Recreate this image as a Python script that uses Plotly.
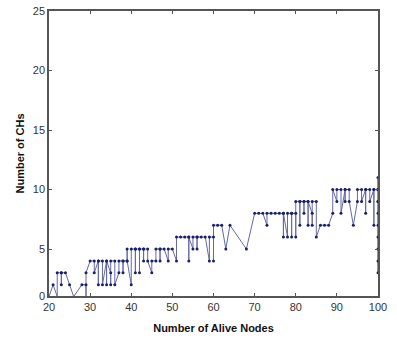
import plotly.graph_objects as go

# Alive-node counts, visited in time order (network starts with 100 alive nodes)
alive_nodes = [100, 99, 98, 97, 96, 95, 94, 93, 92, 91, 90, 89, 88, 87, 86, 85,
               84, 83, 82, 81, 80, 79, 78, 77, 76, 75, 74, 73, 72, 71, 70, 68,
               64, 63, 62, 61, 60, 59, 58, 57, 56, 55, 54, 53, 52, 51, 50, 49,
               48, 47, 46, 45, 44, 43, 42, 41, 40, 39, 38, 37, 36, 35, 34, 33,
               32, 31, 30, 29, 28, 26, 25, 24, 23, 22, 21, 20]

# Number of cluster heads observed in the successive rounds at each alive-node count
chs_per_count = [
    [10, 8, 11, 6, 3, 9, 5, 4, 7, 10, 9, 10],
    [10, 7, 10], [9, 10], [10, 8, 10], [9, 10], [10, 9], [7], [9, 10],
    [10, 9, 10], [8, 10], [10, 9], [10, 8], [7], [7], [7], [6, 9],
    [9, 7, 8], [9, 7, 9], [9, 8, 9], [9, 7, 9], [9, 6, 8], [8, 6, 8], [8, 6],
    [8, 6, 8], [8], [8], [8], [8, 7], [8], [8], [8], [5],
    [7], [5], [7], [7], [7, 4, 6], [6, 4], [6], [6], [6, 5, 6], [6, 5],
    [6, 4, 6], [6], [6], [6, 4], [5], [5, 4],
    [5], [5, 4, 5], [5, 4], [4, 3], [4, 5], [5, 4, 5], [5, 3, 5], [5, 3, 5],
    [5, 2], [4, 5, 4], [4, 3, 4], [4, 3], [2, 4], [4, 2, 3], [4, 2, 4], [2, 4],
    [4, 2, 4], [3, 4], [4], [3, 1, 2], [2], [1], [2], [3], [3, 2, 3], [3, 1],
    [2], [1],
]

y_ticks = [5, 10, 15, 20, 25]
x_ticks = [20, 30, 40, 50, 60, 70, 80, 90, 100]

xs, ys = [], []
for n, chs in zip(alive_nodes, chs_per_count):
    for c in chs:
        xs.append(n)
        ys.append(c)

fig = go.Figure()
fig.add_trace(go.Scatter(
    x=xs, y=ys, mode="lines+markers",
    line=dict(color="#6468a6", width=1),
    marker=dict(color="#1b1f6b", size=3),
    cliponaxis=False, showlegend=False,
))

y_bottom = 1.05
axis_common = dict(
    showline=True, linecolor="#555555", linewidth=1.5, mirror="ticks",
    ticks="inside", ticklen=3, tickwidth=1, tickcolor="#555555",
    showgrid=False, zeroline=False,
    tickfont=dict(family="Liberation Sans, Arial, sans-serif", size=11, color="#333333"),
)

fig.update_layout(
    width=397, height=345,
    margin=dict(l=49, r=19, t=5, b=49),
    paper_bgcolor="white", plot_bgcolor="white",
    xaxis=dict(range=[20, 100], tickvals=x_ticks,
               title=dict(text="<b>Number of Alive Nodes</b>", standoff=12,
                          font=dict(family="Liberation Sans, Arial, sans-serif", size=11, color="#111111")),
               **axis_common),
    yaxis=dict(range=[y_bottom, 25], tickvals=[y_bottom] + y_ticks,
               ticktext=["0"] + [str(t) for t in y_ticks],
               title=dict(text="<b>Number of CHs</b>", standoff=6,
                          font=dict(family="Liberation Sans, Arial, sans-serif", size=11, color="#111111")),
               **axis_common),
)

fig.write_html("out.html")
